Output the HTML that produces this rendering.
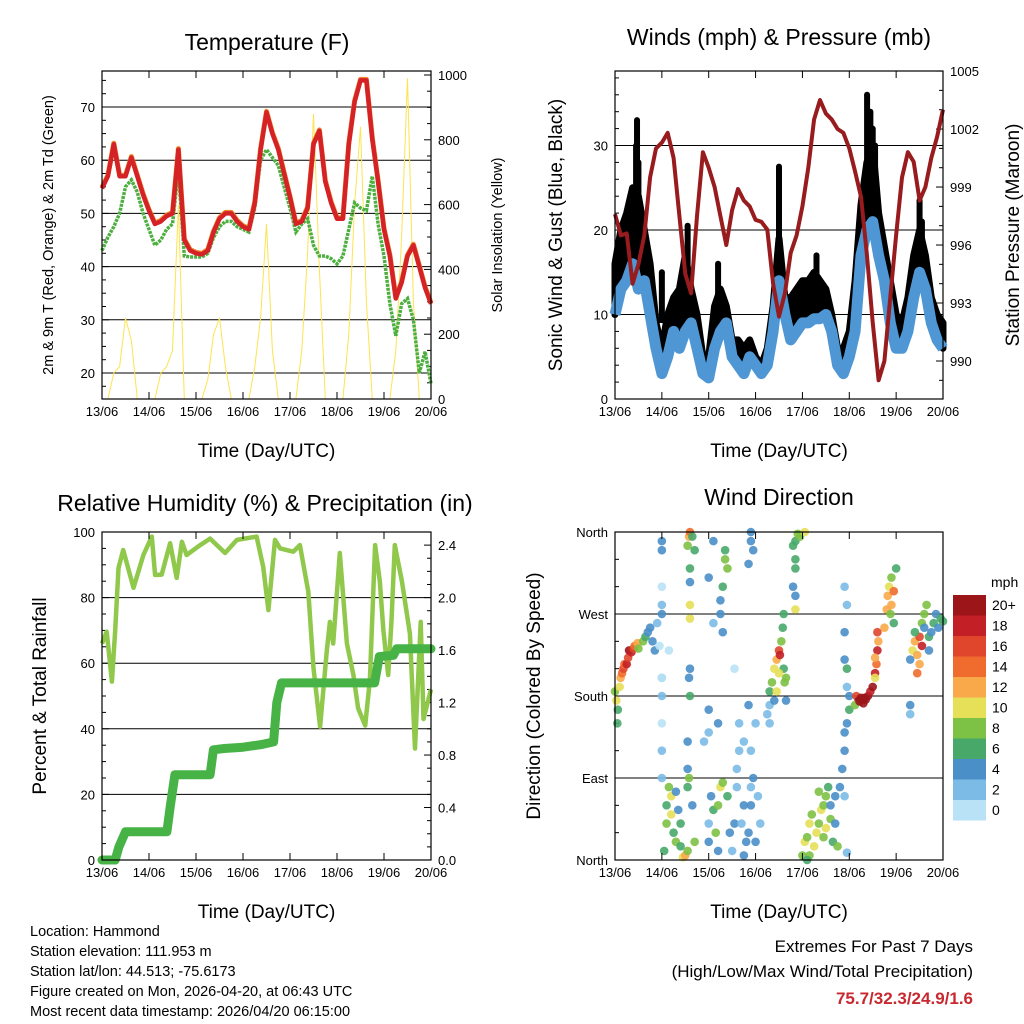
<!DOCTYPE html>
<html><head><meta charset="utf-8">
<style>
html,body{margin:0;padding:0;background:#fff;}
svg{display:block;font-family:"Liberation Sans",Arial,sans-serif;}
</style></head>
<body>
<svg id="chart" width="1024" height="1024" viewBox="0 0 1024 1024" xmlns="http://www.w3.org/2000/svg">
<rect width="1024" height="1024" fill="#fff"/>
<g id="layer"></g>
<text x="30" y="936" font-size="14.5">Location: Hammond</text>
<text x="30" y="956" font-size="14.5">Station elevation: 111.953 m</text>
<text x="30" y="976" font-size="14.5">Station lat/lon: 44.513; -75.6173</text>
<text x="30" y="996" font-size="14.5">Figure created on Mon, 2026-04-20, at 06:43 UTC</text>
<text x="30" y="1016" font-size="14.5">Most recent data timestamp: 2026/04/20 06:15:00</text>
<text x="973" y="952" font-size="17" text-anchor="end">Extremes For Past 7 Days</text>
<text x="973" y="977" font-size="17" text-anchor="end">(High/Low/Max Wind/Total Precipitation)</text>
<text x="973" y="1004" font-size="17" font-weight="bold" fill="#c8282f" text-anchor="end">75.7/32.3/24.9/1.6</text>
</svg>
<script>
// ---------- data ----------
const dayLabels = ["13/06","14/06","15/06","16/06","17/06","18/06","19/06","20/06"];
const tempRed = [54.7,57,63,57,57,60.5,57,53.5,50.5,48,48.5,49.5,50,62,45,43,42.5,42.3,43,46.5,49,50,50,48.5,47.5,47,52,62,69,65,62,57.5,53,48,48.5,51,63,65.5,56,52,49,49,63,71,75,75,64,56,47,42,34,37,42,44,40,36,33];
const dewGreen = [43,45.5,47.5,50,55,56.3,54,50,47,44,45,47,48,58,42,41.8,41.8,41.8,42.5,45.5,47.5,48.5,48.5,47.5,47,46.5,51,60,62,60.5,59,55,51,46.5,48,49,44,42,42,41.5,40.5,42,47,52,51,50.5,57,48,42,33,27,33,34,30,20,24,18];
const solar = [0,0,80,100,250,180,0,0, 0,0,80,100,150,600,0,0, 0,0,60,200,250,100,0,0, 0,0,100,250,540,150,0,0, 0,0,150,450,880,400,0,0, 0,0,200,600,840,300,0,0, 0,0,150,500,990,300,0,0, 0];
const windSus = [10,13,14,16,13,14,10,6,3,5,8,6,8,9,6,3,2.5,6,8,9,5,4,3,5,4,3,4,8,14,10,7,8,9,9,9.5,9.5,10,8,4,3,5,8,17,20,21,17,14,9,6,6,8,12,15,13,9,7,6];
const windGust = [16,20,22,25,24,20,16,9,6,10,12,13,17,13,10,5,5,11,13,11,7,7,6,7,5,4,6,11,19,12,12,13,14,14,15,14,13,10,6,6,8,14,23,28,30,22,18,14,10,9,12,17,20,17,12,10,9];
const peakGustT = [0.47,0.45,0.5,1.55,2.2,3.5,5.38,5.45,5.5,5.55,6.5,6.55,1.0,4.3];
const peakGustV = [33,30,28,20.5,16,27.5,36,34,32,30,23.5,21,15,17];
const pressure = [997.6,996.5,996.6,994,995,996.5,999.5,1001,1001.3,1001.8,1000.5,997.5,994.5,993.5,997.5,1000.8,1000,999,997.5,996,997.8,998.9,998.3,998,997.3,997.2,996.8,994,992.3,993.5,995.6,996.5,998,1000,1002.5,1003.5,1002.8,1002.5,1002,1001.8,1001,999.8,998.5,995.5,992,989,990,993.3,996.5,999.5,1000.8,1000.3,998.3,999,1000.5,1001.6,1003];
const rhT = [0,.10,.21,.28,.35,.45,.67,.88,1.06,1.13,1.27,1.45,1.59,1.70,1.80,2.09,2.30,2.62,2.87,3.29,3.43,3.54,3.68,3.79,4.07,4.21,4.39,4.50,4.64,4.78,4.85,4.92,5.06,5.21,5.35,5.45,5.60,5.70,5.81,5.91,5.99,6.09,6.16,6.23,6.38,6.55,6.66,6.78,6.84,7.0];
const rhV = [66,69.6,54.4,70,89,94.5,83,93,98.6,86.9,87,96.6,86,97,93,96,98,93.6,97.6,98.6,89.4,76.2,97.6,95,94,96,81.8,58.5,40.6,63.5,72.6,66,93.6,66,56.4,46.3,41,55,96,85,69.6,56.4,73,96,85,69,34,72.6,43,52];
const pT = [0,0.28,0.36,0.5,1.38,1.45,1.55,2.3,2.37,2.6,3.0,3.4,3.65,3.72,3.82,5.8,5.9,6.2,6.27,7.0];
const pV = [0,0,0.1,0.215,0.215,0.4,0.65,0.65,0.84,0.85,0.86,0.88,0.9,1.2,1.35,1.35,1.55,1.56,1.61,1.61];
const dirT = [0.0,0.03,0.06,0.05,0.1,0.12,0.15,0.18,0.2,0.25,0.28,0.3,0.35,0.4,0.42,0.48,0.5,0.6,0.65,0.7,0.75,0.8,0.85,0.9,0.95,
1.0,1.0,1.0,1.0,1.0,1.0,1.0,1.0,1.0,1.0,1.0,1.15,
1.05,1.1,1.1,1.15,1.2,1.25,1.3,1.2,1.35,1.3,1.4,1.4,1.45,1.5,1.55,
1.58,1.6,1.55,1.6,1.6,1.6,1.6,1.6,1.6,1.58,1.55,1.55,1.58,1.55,1.65,1.7,1.65,1.7,
2.0,2.0,2.05,2.1,2.15,2.2,2.2,2.25,2.3,2.3,2.25,2.25,2.3,2.1,2.1,2.0,2.0,1.9,2.0,2.2,2.35,2.4,2.35,2.45,2.4,
2.5,2.55,2.6,2.6,2.65,2.65,2.7,2.75,2.8,2.75,2.85,2.9,2.95,2.9,3.0,3.05,3.1,3.0,2.9,2.75,2.55,2.85,2.9,2.95,2.85,2.9,
3.25,3.3,3.3,3.35,3.4,3.45,3.5,3.52,3.55,3.58,3.6,3.6,3.62,3.65,3.65,3.5,3.45,3.4,3.3,
3.8,3.85,3.85,3.9,3.95,4.05,3.85,3.8,3.85,3.85,
4.0,4.05,4.1,4.15,4.2,4.25,4.3,4.35,4.4,4.45,4.45,4.5,4.5,4.55,4.6,4.65,4.6,4.7,4.7,4.75,4.35,4.15,4.1,
4.8,4.85,4.9,4.9,4.95,5.0,5.0,4.9,4.95,4.9,4.9,4.95,4.95,4.9,4.95,
5.15,5.2,5.25,5.3,5.35,5.4,5.45,5.5,5.55,5.58,5.6,5.62,5.6,5.55,5.55,5.12,5.22,5.32,
5.75,5.8,5.82,5.85,5.9,5.9,5.95,5.88,6.0,5.95,6.3,6.3,
6.3,6.35,6.4,6.45,6.5,6.55,6.5,6.55,6.6,6.65,6.7,6.7,6.75,6.8,6.85,6.9,6.95,7.0,6.45,6.4,6.6];
const dirD = [185,175,165,150,190,200,205,210,215,215,222,230,228,232,235,238,232,240,245,250,255,240,230,260,235,
350,340,300,280,270,200,180,150,120,90,200,230,
10,40,60,80,50,30,20,70,55,75,40,15,3,5,10,
355,360,345,320,305,280,265,210,180,200,130,100,90,80,60,340,355,20,
20,40,70,55,30,60,10,80,85,300,270,285,250,350,260,310,165,130,140,150,330,320,340,30,70,
10,40,80,100,120,150,40,60,20,5,30,60,90,120,150,70,40,20,80,130,210,170,350,340,325,360,
160,170,185,195,210,220,230,225,240,255,270,210,195,200,175,205,185,175,150,
345,350,330,358,355,360,290,300,320,275,
5,20,25,40,50,15,30,40,55,60,25,70,35,80,45,20,60,70,40,15,75,5,0,
80,100,120,140,150,165,180,300,280,250,220,210,190,70,8,
180,175,178,172,176,180,185,190,205,215,230,240,250,222,200,170,174,178,
255,275,290,300,310,280,295,270,320,260,170,160,
220,230,240,225,245,235,215,260,270,280,230,245,250,260,270,255,265,262,205,250,255];
const dirS = [8,10,6,6,10,12,14,16,14,18,16,20,18,16,14,12,8,8,6,4,4,4,4,2,0,
4,4,0,2,4,2,2,0,2,2,0,0,
6,8,6,8,10,6,8,10,4,4,6,6,10,12,8,
12,14,8,6,4,10,10,4,6,4,4,4,8,6,4,6,6,8,
4,2,4,6,8,8,4,10,8,6,4,4,4,4,2,4,4,2,2,4,8,8,6,4,6,
2,4,2,2,2,2,2,4,4,4,4,4,4,2,2,2,2,4,2,2,0,4,4,4,4,4,
2,2,6,8,10,12,16,18,8,6,6,6,8,8,4,10,10,4,2,
6,6,6,8,8,10,4,4,6,10,
8,10,8,10,8,10,10,8,10,8,8,8,10,6,8,6,4,4,4,8,8,8,6,
4,4,4,4,4,6,4,2,2,4,4,6,2,2,2,
16,20,20,20,20,20,18,20,18,14,18,12,16,12,10,8,20,20,
12,12,12,10,8,12,14,8,6,6,4,2,
4,10,12,12,16,18,12,8,8,8,4,6,4,6,4,4,6,6,14,6,4];
const cbLabels = ["20+","18","16","14","12","10","8","6","4","2","0"];
const cbColors = ["#9b1519","#c21f26","#e0462b","#f06b2e","#f9a94a","#e6e058","#7dc145","#48a86a","#4a8fc8","#7cbbe6","#b9e2f6"];

// ---------- helpers ----------
const NS="http://www.w3.org/2000/svg";
const layer=document.getElementById('layer');
function el(tag,attrs,parent){const e=document.createElementNS(NS,tag);for(const k in attrs)e.setAttribute(k,attrs[k]);(parent||layer).appendChild(e);return e;}
function txt(x,y,s,size,anchor,rot){const e=el('text',{x:x,y:y,'font-size':size,'text-anchor':anchor||'middle'});if(rot)e.setAttribute('transform','rotate('+rot+' '+x+' '+y+')');e.textContent=s;return e;}
function pathFrom(xs,ys){let d='';for(let i=0;i<xs.length;i++)d+=(i?'L':'M')+xs[i].toFixed(1)+' '+ys[i].toFixed(1);return d;}
const idx3=Array.from({length:57},(_,i)=>i*0.125);

function panel(x0,y0,x1,y1){
  return {x0,y0,x1,y1,xs:t=>x0+t/7*(x1-x0)};
}
function frame(P,name){
  const r=el('rect',{x:P.x0,y:P.y0,width:P.x1-P.x0,height:P.y1-P.y0,fill:'none',stroke:'#000','stroke-width':1.2});
  
  for(let d=0;d<=7;d++){
    const x=P.xs(d);
    el('line',{x1:x,y1:P.y1,x2:x,y2:P.y1-7,stroke:'#000'});
    el('line',{x1:x,y1:P.y0,x2:x,y2:P.y0+7,stroke:'#000'});
    const t=txt(x,P.y1+17,dayLabels[d],13);
    
  }
  const xt=txt((P.x0+P.x1)/2,P.y1+58,'Time (Day/UTC)',19);
  
}
function yTicks(P,vals,ys,labels,side,grid,minor){
  for(let i=0;i<vals.length;i++){
    const y=ys(vals[i]);
    if(grid && y>P.y0+2 && y<P.y1-2){const g=el('line',{x1:P.x0,y1:y,x2:P.x1,y2:y,stroke:'#000','stroke-width':1});}
    if(side==='L'){el('line',{x1:P.x0,y1:y,x2:P.x0+7,y2:y,stroke:'#000'});const t=txt(P.x0-7,y+5,labels[i],13,'end');}
    else{el('line',{x1:P.x1,y1:y,x2:P.x1-7,y2:y,stroke:'#000'});const t=txt(P.x1+7,y+5,labels[i],13,'start');}
  }
  if(minor){for(const v of minor){const y=ys(v);if(y<P.y0||y>P.y1)continue;if(side==='L')el('line',{x1:P.x0,y1:y,x2:P.x0+4,y2:y,stroke:'#000'});else el('line',{x1:P.x1,y1:y,x2:P.x1-4,y2:y,stroke:'#000'});}}
}

// ---------- Panel 1: temperature ----------
const P1=panel(102,71,431,399);
const tY=v=>373-(v-20)*5.32;
const sY=v=>399-v*0.324;
let t=txt(267,50,'Temperature (F)',23);
yTicks(P1,[20,30,40,50,60,70],tY,['20','30','40','50','60','70'],'L',true,[17.5,22.5,25,27.5,32.5,35,37.5,42.5,45,47.5,52.5,55,57.5,62.5,65,67.5,72.5,75]);
yTicks(P1,[0,200,400,600,800,1000],sY,['0','200','400','600','800','1000'],'R',false,[50,100,150,250,300,350,450,500,550,650,700,750,850,900,950]);
let p=el('path',{d:pathFrom(idx3.map(P1.xs),solar.map(sY)),fill:'none',stroke:'#fde34f','stroke-width':1});

p=el('path',{d:pathFrom(idx3.map(P1.xs),dewGreen.map(tY)),fill:'none',stroke:'#4caf3e','stroke-width':3.5,'stroke-dasharray':'3 1'});

p=el('path',{d:pathFrom(idx3.map(P1.xs),tempRed.map(v=>tY(v)-1)),fill:'none',stroke:'#f08a30','stroke-width':5,'stroke-linejoin':'round'});

p=el('path',{d:pathFrom(idx3.map(P1.xs),tempRed.map(tY)),fill:'none',stroke:'#d42226','stroke-width':4.5,'stroke-linejoin':'round'});

frame(P1,'temperature');
t=txt(53,235,'2m & 9m T (Red, Orange) & 2m Td (Green)',14.5,'middle',-90);
t=txt(502,235,'Solar Insolation (Yellow)',14.5,'middle',-90);

// ---------- Panel 2: winds ----------
const P2=panel(615,71,943,399);
const wY=v=>399-v*8.45;
const prY=v=>361-(v-990)*19.33;
t=txt(779,45,'Winds (mph) & Pressure (mb)',23);
yTicks(P2,[0,10,20,30],wY,['0','10','20','30'],'L',true,[2,4,6,8,12,14,16,18,22,24,26,28,32,34,36,38]);
yTicks(P2,[990,993,996,999,1002,1005],prY,['990','993','996','999','1002','1005'],'R',false,[989,991,992,994,995,997,998,1000,1001,1003,1004]);
{
  const xs=idx3.map(P2.xs);
  let d=pathFrom(xs,windGust.map(wY));
  for(let i=xs.length-1;i>=0;i--)d+='L'+xs[i].toFixed(1)+' '+wY(windSus[i]).toFixed(1);
  d+='Z';
  p=el('path',{d:d,fill:'#000',stroke:'#000','stroke-width':7,'stroke-linejoin':'round'});
  
}
for(let i=0;i<peakGustT.length;i++){
  const c=el('circle',{cx:P2.xs(peakGustT[i]),cy:wY(peakGustV[i]),r:3,fill:'#000'});
  
  el('line',{x1:P2.xs(peakGustT[i]),y1:wY(peakGustV[i]),x2:P2.xs(peakGustT[i]),y2:wY(peakGustV[i]*0.6),stroke:'#000','stroke-width':6});
}
p=el('path',{d:pathFrom(idx3.map(P2.xs),windSus.map(wY)),fill:'none',stroke:'#4f97d4','stroke-width':11,'stroke-linejoin':'round'});

p=el('path',{d:pathFrom(idx3.map(P2.xs),pressure.map(prY)),fill:'none',stroke:'#981b1e','stroke-width':4,'stroke-linejoin':'round'});

frame(P2,'winds');
t=txt(562,235,'Sonic Wind & Gust (Blue, Black)',19,'middle',-90);
t=txt(1019,235,'Station Pressure (Maroon)',19,'middle',-90);

// ---------- Panel 3: RH & precip ----------
const P3=panel(102,532,431,860);
const rY=v=>860-v*3.28;
const pY=v=>860-v*131.2;
t=txt(265,511,'Relative Humidity (%) & Precipitation (in)',23);
yTicks(P3,[0,20,40,60,80,100],rY,['0','20','40','60','80','100'],'L',true,[5,10,15,25,30,35,45,50,55,65,70,75,85,90,95]);
yTicks(P3,[0,0.4,0.8,1.2,1.6,2.0,2.4],pY,['0.0','0.4','0.8','1.2','1.6','2.0','2.4'],'R',false,[0.1,0.2,0.3,0.5,0.6,0.7,0.9,1.0,1.1,1.3,1.4,1.5,1.7,1.8,1.9,2.1,2.2,2.3]);
p=el('path',{d:pathFrom(rhT.map(P3.xs),rhV.map(rY)),fill:'none',stroke:'#8fc84a','stroke-width':4.5,'stroke-linejoin':'round'});

p=el('path',{d:pathFrom(pT.map(P3.xs),pV.map(pY)),fill:'none',stroke:'#47b346','stroke-width':9,'stroke-linejoin':'round','stroke-linecap':'round'});

frame(P3,'humidity');
t=txt(46,696,'Percent & Total Rainfall',19,'middle',-90);

// ---------- Panel 4: wind direction ----------
const P4=panel(615,532,943,860);
const dY=v=>860-v/360*328;
t=txt(779,505,'Wind Direction',23);
yTicks(P4,[0,90,180,270,360],dY,['North','East','South','West','North'],'L',true,[30,60,120,150,210,240,300,330]);
function spdColor(s){const k=Math.min(10,Math.round(s/2));return cbColors[10-k];}
for(let i=0;i<dirT.length;i++){
  const c=el('circle',{cx:P4.xs(dirT[i]),cy:dY(dirD[i]),r:4.3,fill:spdColor(dirS[i]),'fill-opacity':0.9});
  
}
frame(P4,'wind-direction');
t=txt(540,696,'Direction (Colored By Speed)',19,'middle',-90);
// colorbar
t=txt(991,587,'mph',14,'start');
for(let i=0;i<cbLabels.length;i++){
  const y=595+i*20.5;
  const r=el('rect',{x:953,y:y,width:33,height:20.5,fill:cbColors[i]});
  
  const l=txt(992,y+15,cbLabels[i],14,'start');
  
}
</script>
</body></html>
